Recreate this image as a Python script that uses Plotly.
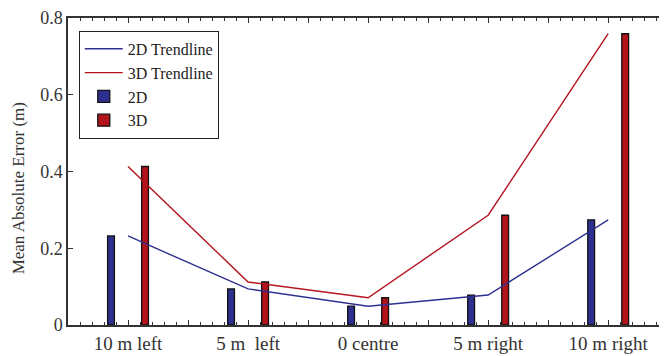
import plotly.graph_objects as go

categories = ["10 m left", "5 m  left", "0 centre", "5 m right", "10 m right"]
positions = [0, 1, 2, 3, 4]
mae_2d = [0.232, 0.094, 0.049, 0.078, 0.274]
mae_3d = [0.413, 0.112, 0.071, 0.286, 0.759]

blue = "#2e3090"
red = "#b3141c"
font = "Liberation Serif, Times New Roman, serif"

fig = go.Figure()
fig.add_trace(go.Scatter(x=positions, y=mae_2d, mode="lines", name="2D Trendline",
                         line=dict(color=blue, width=1.4)))
fig.add_trace(go.Scatter(x=positions, y=mae_3d, mode="lines", name="3D Trendline",
                         line=dict(color=red, width=1.4)))
fig.add_trace(go.Bar(x=positions, y=mae_2d, name="2D", marker=dict(color=blue, line=dict(color="#111", width=1.3))))
fig.add_trace(go.Bar(x=positions, y=mae_3d, name="3D", marker=dict(color=red, line=dict(color="#111", width=1.3))))

half_ticks = [-0.5 + 0.5 * i for i in range(11)]
half_text = [categories[int(v)] if v >= 0 and float(v).is_integer() and int(v) < len(categories) else "" for v in half_ticks]

fig.update_layout(
    width=667, height=356,
    margin=dict(l=60, r=8, t=10, b=39, autoexpand=False),
    paper_bgcolor="white", plot_bgcolor="white",
    barmode="group", bargap=0.433, bargroupgap=0.8,
    font=dict(family=font, size=18, color="#333"),
    legend=dict(x=0.018, y=0.958, xanchor="left", yanchor="top",
                bordercolor="#222", borderwidth=1, bgcolor="white",
                font=dict(family=font, size=16, color="#222"),
                tracegroupgap=0, itemwidth=38),
    showlegend=True,
    annotations=[dict(text="Mean Absolute Error (m)", xref="paper", yref="paper",
                      x=-0.0835, y=0.445, xanchor="center", yanchor="middle",
                      textangle=-90, showarrow=False,
                      font=dict(family=font, size=17, color="#333"))],
)
fig.update_xaxes(
    range=[-0.5, 4.49], tickmode="array", tickvals=half_ticks, ticktext=half_text,
    ticks="inside", ticklen=5, tickwidth=1, tickcolor="#333",
    minor=dict(dtick=0.1, tick0=-0.5, ticks="inside", ticklen=3, tickcolor="#333", tickwidth=1),
    showline=True, linecolor="#333", linewidth=1.5, mirror="ticks",
    showgrid=False, zeroline=False, automargin=False, ticklabeloverflow="allow",
    tickfont=dict(family=font, size=19, color="#333"),
)
fig.update_yaxes(
    range=[0, 0.8], dtick=0.2, tick0=0,
    ticks="inside", ticklen=5, tickwidth=1, tickcolor="#333",
    showline=True, linecolor="#333", linewidth=1.5, mirror="ticks",
    showgrid=False, zeroline=False, automargin=False, ticklabeloverflow="allow",
    tickfont=dict(family=font, size=18, color="#333"),
)

fig.write_html("out.html")
